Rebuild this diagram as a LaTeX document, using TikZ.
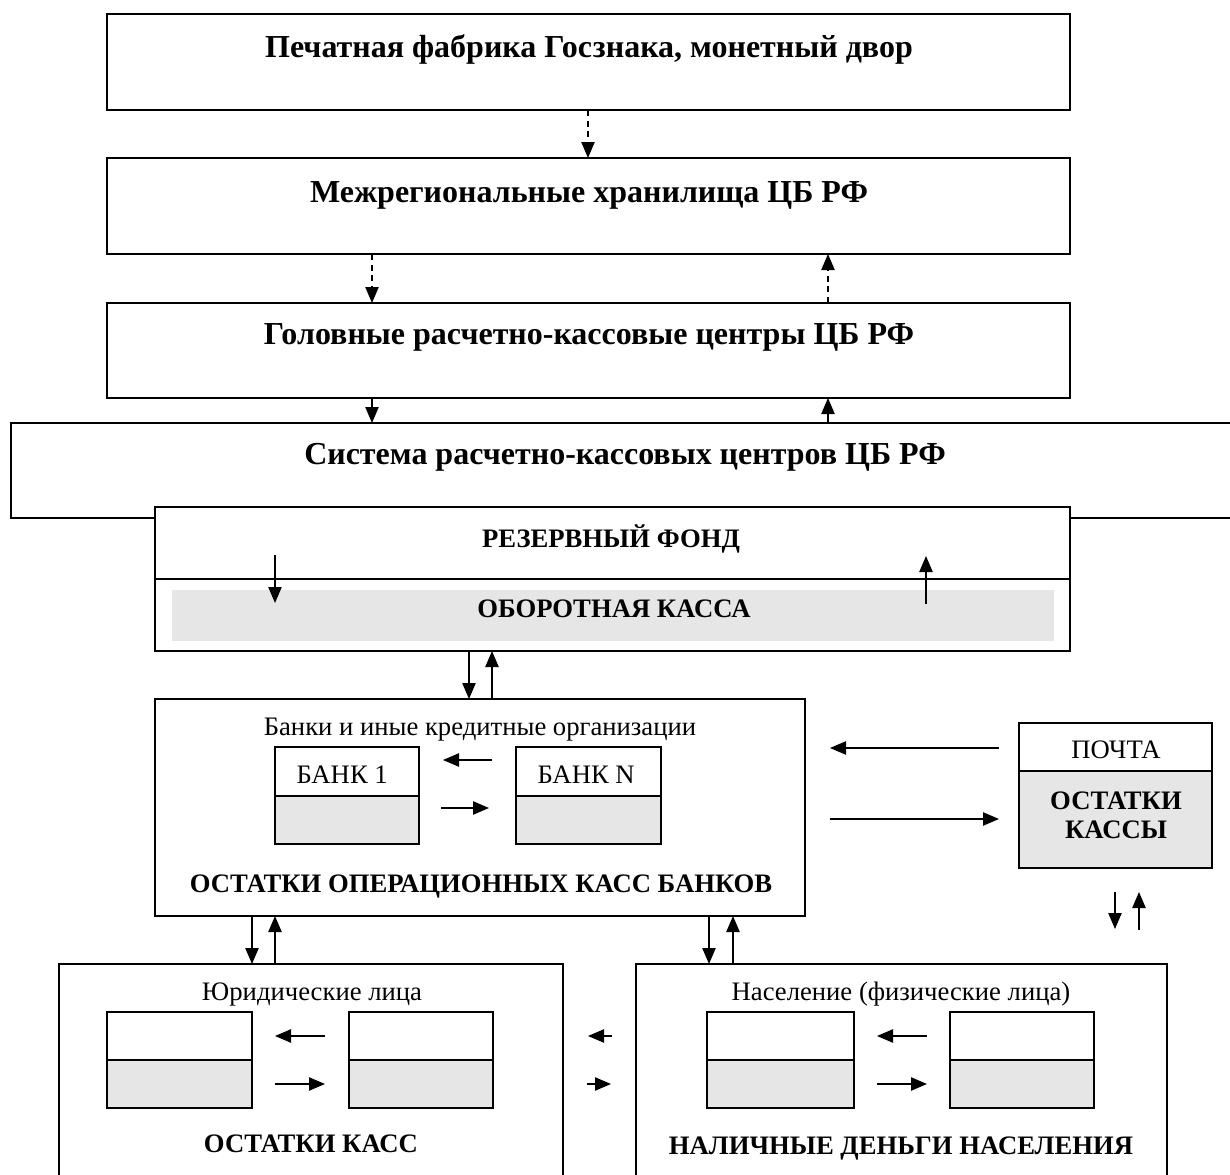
\documentclass[tikz,border=0pt]{standalone}
\usepackage{fontspec}
\setmainfont{Liberation Serif}
\usetikzlibrary{arrows.meta}
\definecolor{boxgray}{HTML}{E6E6E6}
\newcommand\pxbox[6][]{\node[boxst,#1,minimum width={(#5-#3)*0.375pt},minimum height={(#6-#4)*0.375pt}] (#2) at ({(#3+#5)/2},{(#4+#6)/2}) {};}
\tikzset{
 boxst/.style={draw, line width=0.75pt, inner sep=0pt, outer sep=0pt, rectangle, fill=white},
 arr/.style={line width=0.5pt, -{Triangle[length=6pt,width=5pt]}},
 darr/.style={arr, dash pattern=on 2.2pt off 1.8pt},
 big/.style={font=\fontsize{12}{14}\selectfont\bfseries, anchor=base, inner sep=0pt},
 mid/.style={font=\fontsize{10}{12}\selectfont\bfseries, anchor=base, inner sep=0pt},
 reg/.style={font=\fontsize{10}{12}\selectfont, anchor=base, inner sep=0pt},
}
\begin{document}
\begin{tikzpicture}[x=0.375pt,y=-0.375pt]
\useasboundingbox (0,0) rectangle (1230,1175);
\fill[white] (0,0) rectangle (1230,1175);
% top boxes
\pxbox{b1}{107}{14}{1070}{110}
\pxbox{b2}{107}{158}{1070}{254}
\pxbox{b3}{107}{303}{1070}{398}
\pxbox{sys}{11}{423}{1260}{518}
\pxbox{res}{155}{507}{1070}{651}
\coordinate (rdiv) at (0,579);
\draw[line width=0.75pt] (res.west |- rdiv) -- (res.east |- rdiv);
\pxbox[draw=none,fill=boxgray]{obor}{172}{590}{1054}{641}
% banks
\pxbox{bank}{155}{699}{805}{916}
\pxbox{bk1t}{275}{747}{419}{796}
\pxbox[fill=boxgray]{bk1b}{275}{796}{419}{844}
\pxbox{bkNt}{516}{747}{661}{796}
\pxbox[fill=boxgray]{bkNb}{516}{796}{661}{844}
% post
\pxbox{post}{1019}{723}{1212}{771}
\pxbox[fill=boxgray]{postb}{1019}{771}{1212}{868}
% bottom
\pxbox{ur}{59}{964}{563}{1200}
\pxbox{fz}{636}{964}{1167}{1200}
\pxbox{uat}{107}{1012}{252}{1060}
\pxbox[fill=boxgray]{uab}{107}{1060}{252}{1108}
\pxbox{ubt}{349}{1012}{493}{1060}
\pxbox[fill=boxgray]{ubb}{349}{1060}{493}{1108}
\pxbox{fct}{707}{1012}{854}{1060}
\pxbox[fill=boxgray]{fcb}{707}{1060}{854}{1108}
\pxbox{fdt}{950}{1012}{1094}{1060}
\pxbox[fill=boxgray]{fdb}{950}{1060}{1094}{1108}
% texts
\node[big] (t1) at (589,57) {Печатная фабрика Госзнака, монетный двор};
\node[big] (t2) at (589,202) {Межрегиональные хранилища ЦБ РФ};
\node[big] (t3) at (589,344) {Головные расчетно-кассовые центры ЦБ РФ};
\node[big] (t4) at (625,464) {Система расчетно-кассовых центров ЦБ РФ};
\node[mid] (t5) at (611,547) {РЕЗЕРВНЫЙ ФОНД};
\node[mid] (t6) at (614,617) {ОБОРОТНАЯ КАССА};
\node[reg] (t7) at (480,735) {Банки и иные кредитные организации};
\node[reg,anchor=base west] (t8) at (296,783) {БАНК 1};
\node[reg,anchor=base west] (t9) at (537,783) {БАНК N};
\node[mid] (t10) at (481,892) {ОСТАТКИ ОПЕРАЦИОННЫХ КАСС БАНКОВ};
\node[reg] (t11) at (1116,758) {ПОЧТА};
\node[mid] (t12) at (1116,809) {ОСТАТКИ};
\node[mid] (t13) at (1116,838) {КАССЫ};
\node[reg] (t14) at (312,1000) {Юридические лица};
\node[reg] (t15) at (901,1000) {Население (физические лица)};
\node[mid] (t16) at (311,1152) {ОСТАТКИ КАСС};
\node[mid] (t17) at (901,1154) {НАЛИЧНЫЕ ДЕНЬГИ НАСЕЛЕНИЯ};
% x positions
\coordinate (xa) at (588,0);
\coordinate (xl) at (372,0);
\coordinate (xr) at (828,0);
\coordinate (xb) at (469,0);
\coordinate (xc) at (492,0);
\coordinate (xd) at (252,0);
\coordinate (xe) at (275,0);
\coordinate (xf) at (709,0);
\coordinate (xg) at (733,0);
% vertical arrows
\draw[darr] (b1.south -| xa) -- (b2.north -| xa);
\draw[darr] (b2.south -| xl) -- (b3.north -| xl);
\draw[darr] (b3.north -| xr) -- (b2.south -| xr);
\draw[arr] (b3.south -| xl) -- (sys.north -| xl);
\draw[arr] (sys.north -| xr) -- (b3.south -| xr);
\coordinate (r1s) at (275,555); \coordinate (r1e) at (275,603);
\coordinate (r2s) at (926,604); \coordinate (r2e) at (926,556);
\draw[arr] (r1s) -- (r1e);
\draw[arr] (r2s) -- (r2e);
\draw[arr] (res.south -| xb) -- (bank.north -| xb);
\draw[arr] (bank.north -| xc) -- (res.south -| xc);
\draw[arr] (bank.south -| xd) -- (ur.north -| xd);
\draw[arr] (ur.north -| xe) -- (bank.south -| xe);
\draw[arr] (bank.south -| xf) -- (fz.north -| xf);
\draw[arr] (fz.north -| xg) -- (bank.south -| xg);
% post arrows
\coordinate (p1s) at (999,748); \coordinate (p1e) at (830,748);
\coordinate (p2s) at (830,819); \coordinate (p2e) at (999,819);
\draw[arr] (p1s) -- (p1e);
\draw[arr] (p2s) -- (p2e);
\coordinate (p3s) at (1115,892); \coordinate (p3e) at (1115,929);
\coordinate (p4s) at (1139,930); \coordinate (p4e) at (1139,892);
\draw[arr] (p3s) -- (p3e);
\draw[arr] (p4s) -- (p4e);
% horizontal inner arrows
\coordinate (h1s) at (492,760); \coordinate (h1e) at (443,760);
\coordinate (h2s) at (441,808); \coordinate (h2e) at (489,808);
\draw[arr] (h1s) -- (h1e);
\draw[arr] (h2s) -- (h2e);
\coordinate (h3s) at (325,1036); \coordinate (h3e) at (275,1036);
\coordinate (h4s) at (275,1084); \coordinate (h4e) at (325,1084);
\draw[arr] (h3s) -- (h3e);
\draw[arr] (h4s) -- (h4e);
\coordinate (h5s) at (612,1036); \coordinate (h5e) at (588,1036);
\coordinate (h6s) at (587,1084); \coordinate (h6e) at (611,1084);
\draw[arr] (h5s) -- (h5e);
\draw[arr] (h6s) -- (h6e);
\coordinate (h7s) at (927,1036); \coordinate (h7e) at (877,1036);
\coordinate (h8s) at (877,1084); \coordinate (h8e) at (927,1084);
\draw[arr] (h7s) -- (h7e);
\draw[arr] (h8s) -- (h8e);
\end{tikzpicture}
\end{document}
